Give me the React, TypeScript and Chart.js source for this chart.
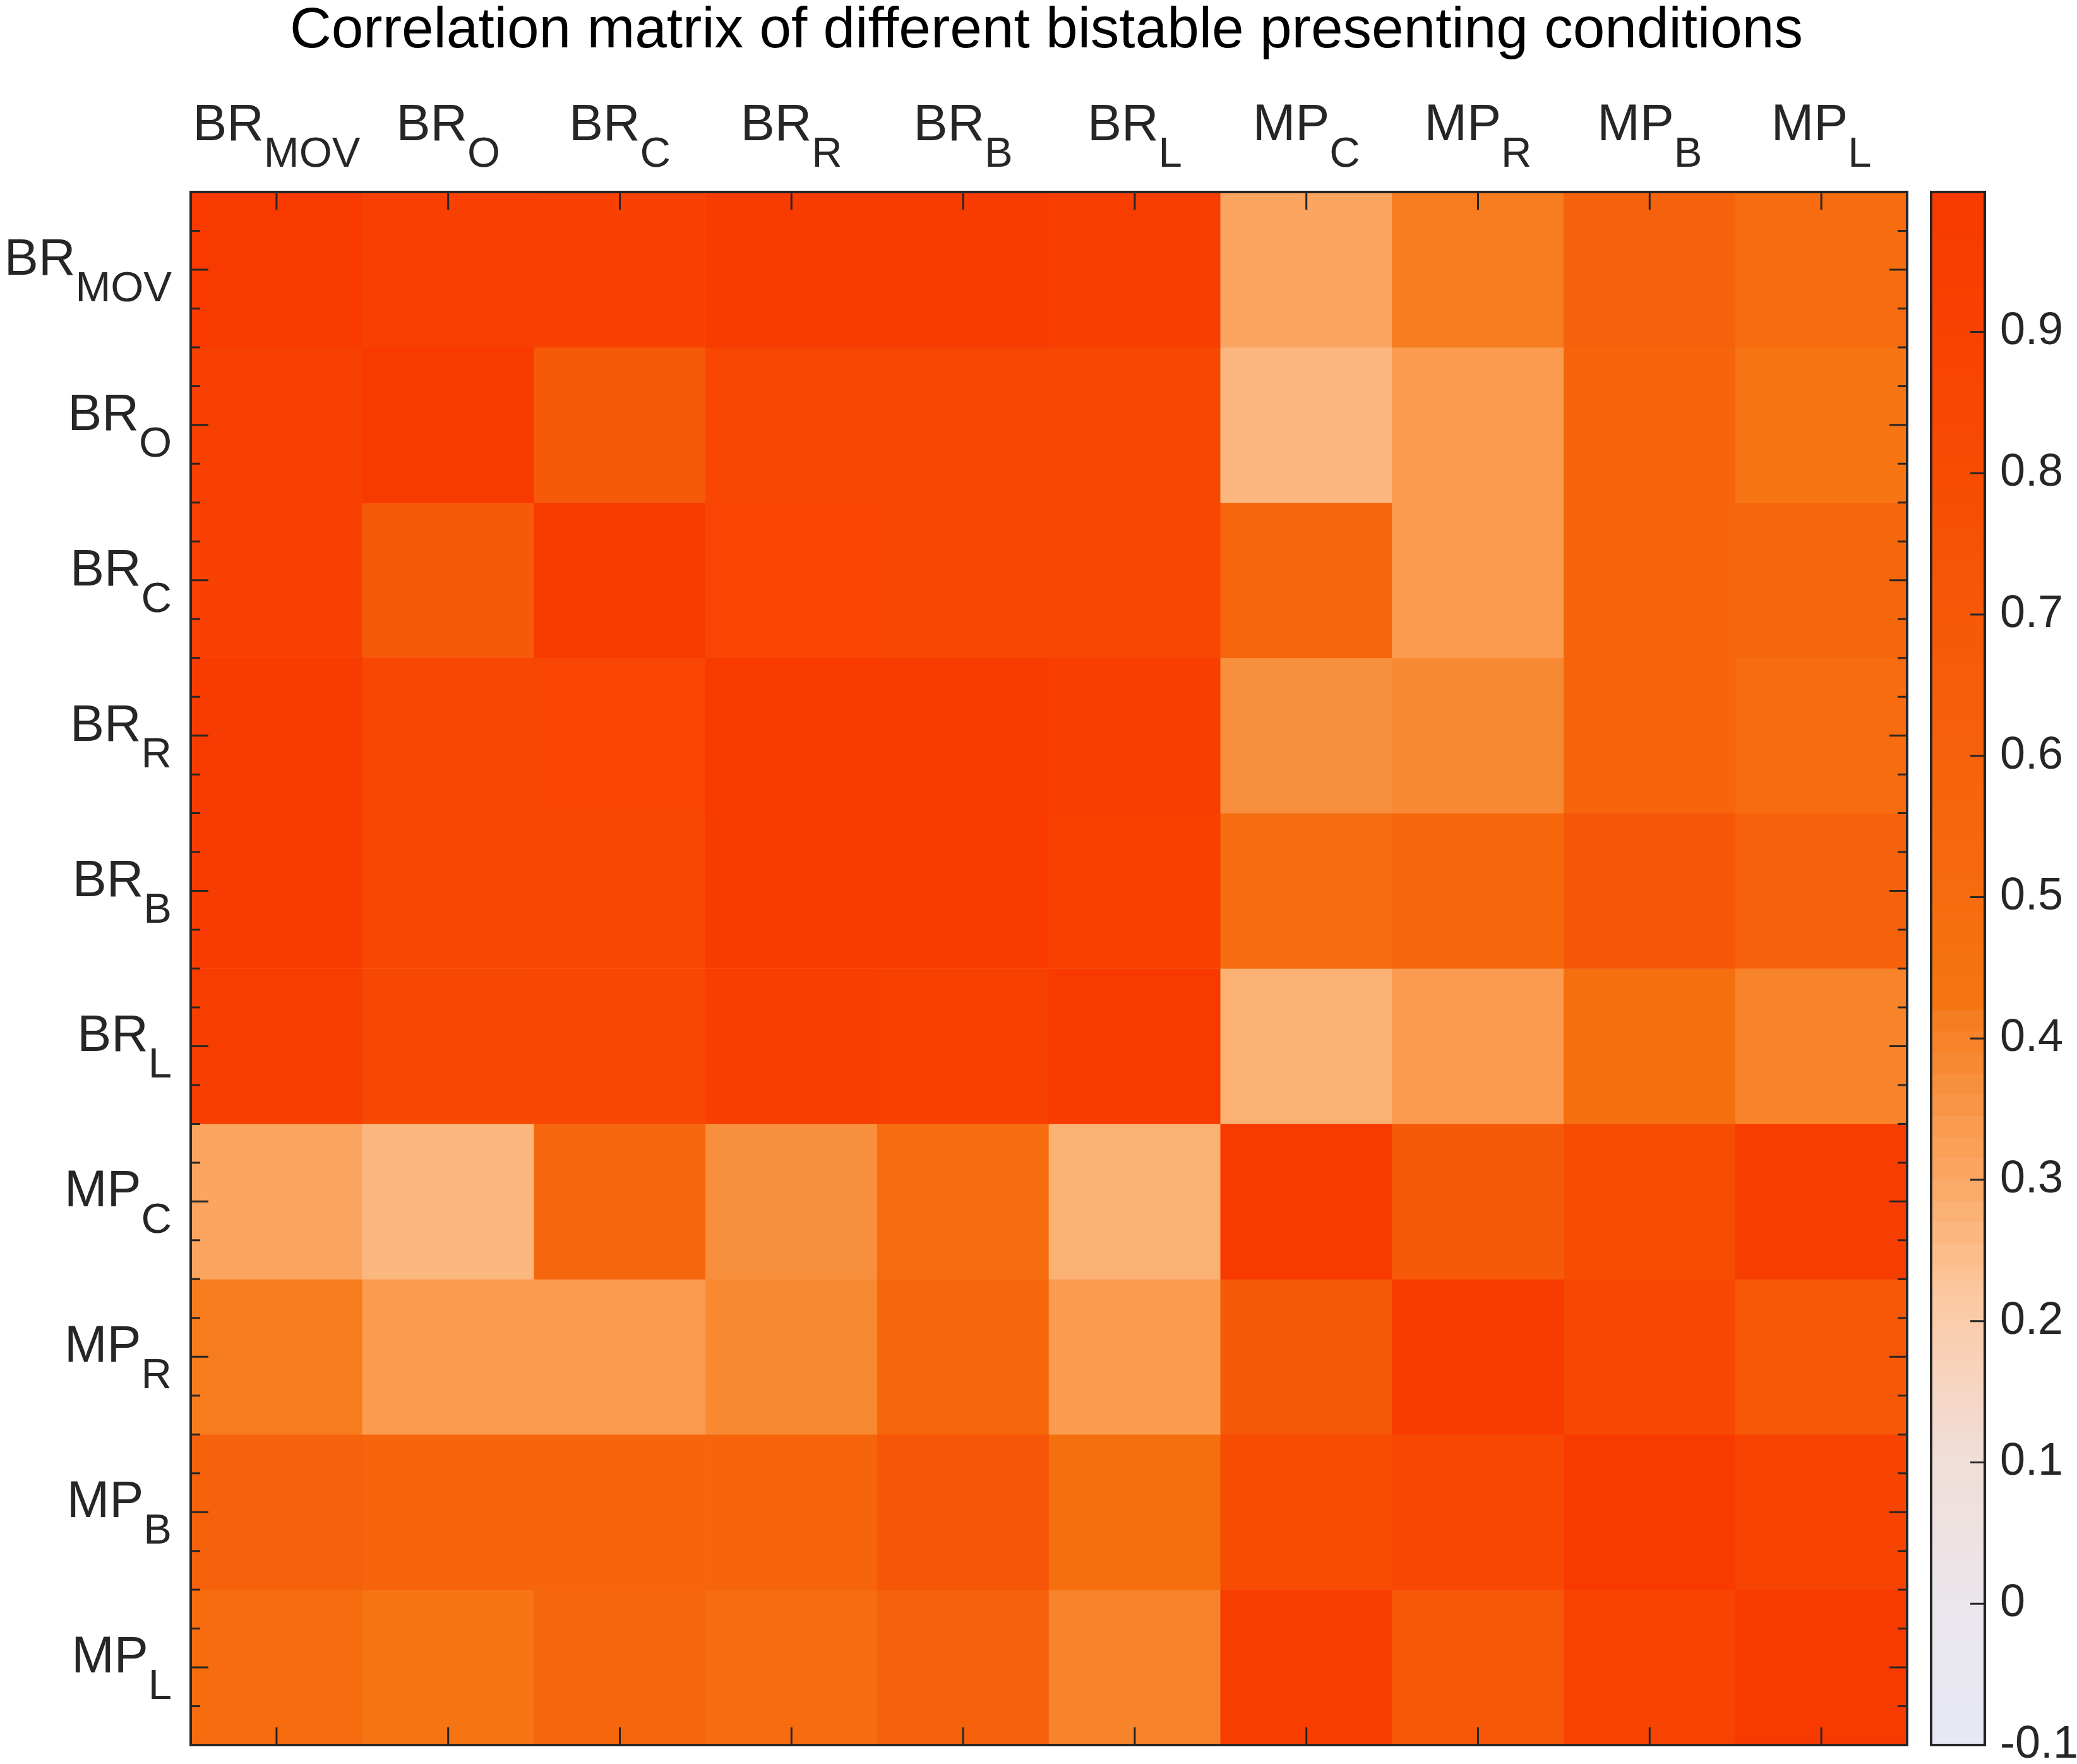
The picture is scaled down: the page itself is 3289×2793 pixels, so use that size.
import React, { useEffect, useRef } from 'react';
import { Chart, registerables } from 'chart.js';

Chart.register(...registerables);

// ---------------- data ----------------
const TITLE = 'Correlation matrix of different bistable presenting conditions';
const conditionMain = ['BR', 'BR', 'BR', 'BR', 'BR', 'BR', 'MP', 'MP', 'MP', 'MP'];
const conditionSub = ['MOV', 'O', 'C', 'R', 'B', 'L', 'C', 'R', 'B', 'L'];

const rowBRMOV = [1.0, 0.92, 0.91, 0.97, 0.97, 0.96, 0.31, 0.42, 0.6, 0.5];
const rowBRO = [0.92, 1.0, 0.69, 0.86, 0.86, 0.84, 0.255, 0.345, 0.58, 0.43];
const rowBRC = [0.91, 0.69, 1.0, 0.87, 0.86, 0.85, 0.56, 0.345, 0.57, 0.56];
const rowBRR = [0.97, 0.86, 0.87, 1.0, 0.97, 0.95, 0.37, 0.38, 0.57, 0.5];
const rowBRB = [0.97, 0.86, 0.86, 0.97, 1.0, 0.93, 0.49, 0.55, 0.72, 0.6];
const rowBRL = [0.96, 0.84, 0.85, 0.95, 0.93, 1.0, 0.28, 0.335, 0.48, 0.4];
const rowMPC = [0.31, 0.255, 0.56, 0.37, 0.49, 0.28, 1.0, 0.68, 0.8, 0.96];
const rowMPR = [0.42, 0.345, 0.345, 0.38, 0.55, 0.335, 0.68, 1.0, 0.84, 0.7];
const rowMPB = [0.6, 0.58, 0.57, 0.57, 0.72, 0.48, 0.8, 0.84, 1.0, 0.88];
const rowMPL = [0.5, 0.43, 0.56, 0.5, 0.6, 0.4, 0.96, 0.7, 0.88, 1.0];
const matrixRows = [rowBRMOV, rowBRO, rowBRC, rowBRR, rowBRB, rowBRL, rowMPC, rowMPR, rowMPB, rowMPL];

const colorbarTicks = [-0.1, 0, 0.1, 0.2, 0.3, 0.4, 0.5, 0.6, 0.7, 0.8, 0.9];
const colorbarMin = -0.1;
const colorbarMax = 0.999;

// ---------------- colormap ----------------
const cmapStops: [number, number, number, number][] = [
  [-0.1, 230, 232, 244],
  [0.0, 235, 230, 236],
  [0.1, 240, 222, 216],
  [0.15, 246, 214, 196],
  [0.22, 252, 200, 160],
  [0.25, 252, 188, 136],
  [0.3, 251, 168, 100],
  [0.35, 249, 150, 72],
  [0.4, 247, 130, 40],
  [0.42, 246, 124, 30],
  [0.4201, 246, 118, 18],
  [0.5, 246, 108, 14],
  [0.6, 246, 98, 11],
  [0.7, 246, 88, 8],
  [0.8, 247, 76, 4],
  [0.9, 248, 66, 2],
  [1.0, 248, 58, 0],
];

function colorFor(vIn: number): string {
  let v = Math.max(-0.1, Math.min(1, vIn));
  if (v >= 0.24 && v < 0.42) {
    const step = 0.015;
    v = 0.24 + Math.floor((v - 0.24) / step) * step + step / 2;
  }
  for (let i = 0; i < cmapStops.length - 1; i++) {
    const a = cmapStops[i];
    const b = cmapStops[i + 1];
    if (v >= a[0] && v <= b[0]) {
      const t = (v - a[0]) / (b[0] - a[0] || 1);
      const r = Math.round(a[1] + (b[1] - a[1]) * t);
      const g = Math.round(a[2] + (b[2] - a[2]) * t);
      const bl = Math.round(a[3] + (b[3] - a[3]) * t);
      return `rgb(${r},${g},${bl})`;
    }
  }
  const last = cmapStops[cmapStops.length - 1];
  return `rgb(${last[1]},${last[2]},${last[3]})`;
}

// ---------------- layout constants ----------------
const W = 3289;
const H = 2793;
const PLOT_LEFT = 302;
const PLOT_TOP = 304;
const PLOT_RIGHT = 3020;
const PLOT_BOTTOM = 2763;
const FONT = '"Liberation Sans", Arial, Helvetica, sans-serif';
const INK = '#262626';

const decorPlugin = {
  id: 'heatmapDecor',
  afterDraw(chart: any) {
    const ctx: CanvasRenderingContext2D = chart.ctx;
    const area = chart.chartArea;
    const xs = chart.scales.x;
    const ys = chart.scales.y;
    const cb = chart.scales.cb;
    ctx.save();

    // colorbar gradient
    const cbLeft = area.right + 38;
    const cbRight = area.right + 123;
    const top = Math.floor(cb.top);
    const bottom = Math.ceil(cb.bottom);
    for (let py = top; py < bottom; py++) {
      const v = cb.getValueForPixel(py + 0.5);
      ctx.fillStyle = colorFor(v);
      ctx.fillRect(cbLeft, py, cbRight - cbLeft, 1);
    }
    ctx.strokeStyle = INK;
    ctx.lineWidth = 3;
    ctx.beginPath();
    for (const v of colorbarTicks) {
      if (v <= colorbarMin) continue;
      const y = cb.getPixelForValue(v);
      ctx.moveTo(cbRight - 23, y);
      ctx.lineTo(cbRight, y);
    }
    ctx.stroke();
    ctx.lineWidth = 4;
    ctx.strokeRect(cbLeft, cb.top, cbRight - cbLeft, cb.bottom - cb.top);

    // heatmap ticks
    ctx.lineWidth = 3;
    ctx.beginPath();
    for (let i = 0; i < conditionSub.length; i++) {
      const x = xs.getPixelForValue(i);
      ctx.moveTo(x, area.top);
      ctx.lineTo(x, area.top + 28);
      ctx.moveTo(x, area.bottom);
      ctx.lineTo(x, area.bottom - 28);
    }
    const nQuarter = conditionSub.length * 4;
    for (let k = 1; k < nQuarter; k++) {
      const v = -0.5 + k * 0.25;
      const y = ys.getPixelForValue(v);
      const len = Math.abs(v - Math.round(v)) < 1e-9 ? 28 : 15;
      ctx.moveTo(area.left, y);
      ctx.lineTo(area.left + len, y);
      ctx.moveTo(area.right, y);
      ctx.lineTo(area.right - len, y);
    }
    ctx.stroke();
    ctx.lineWidth = 4;
    ctx.strokeRect(area.left, area.top, area.right - area.left, area.bottom - area.top);

    // axis labels with subscripts
    const mainFont = `81px ${FONT}`;
    const subFont = `67px ${FONT}`;
    ctx.fillStyle = INK;
    ctx.textBaseline = 'alphabetic';
    ctx.textAlign = 'left';
    for (let i = 0; i < conditionSub.length; i++) {
      ctx.font = mainFont;
      const wMain = ctx.measureText(conditionMain[i]).width;
      ctx.font = subFont;
      const wSub = ctx.measureText(conditionSub[i]).width;
      // top labels
      const cx = xs.getPixelForValue(i);
      const x0 = cx - (wMain + wSub) / 2;
      ctx.font = mainFont;
      ctx.fillText(conditionMain[i], x0, 222);
      ctx.font = subFont;
      ctx.fillText(conditionSub[i], x0 + wMain, 264);
      // left labels
      const cy = ys.getPixelForValue(i);
      const xr = area.left - 30;
      ctx.font = mainFont;
      ctx.fillText(conditionMain[i], xr - wSub - wMain, cy + 8);
      ctx.font = subFont;
      ctx.fillText(conditionSub[i], xr - wSub, cy + 50);
    }

    // title
    ctx.fillStyle = '#000000';
    ctx.font = `91px ${FONT}`;
    ctx.textAlign = 'center';
    ctx.fillText(TITLE, (area.left + area.right) / 2 - 4, 75);
    ctx.restore();
  },
};

export default function App() {
  const canvasRef = useRef<HTMLCanvasElement | null>(null);

  useEffect(() => {
    const canvas = canvasRef.current;
    if (!canvas) return;
    Chart.defaults.font.family = FONT;

    const datasets = matrixRows.map((row, r) => ({
      label: `${conditionMain[r]}${conditionSub[r]}`,
      data: row.map(() => [r - 0.5, r + 0.5]),
      backgroundColor: row.map((v) => colorFor(v)),
      borderWidth: 0,
      barPercentage: 1,
      categoryPercentage: 1,
      grouped: false,
    }));

    const chart = new Chart(canvas, {
      type: 'bar',
      data: {
        labels: conditionSub.map((s, i) => `${conditionMain[i]}${s}`),
        datasets: datasets as any,
      },
      options: {
        responsive: false,
        animation: false,
        events: [],
        layout: {
          padding: { left: PLOT_LEFT, top: PLOT_TOP, right: 0, bottom: H - PLOT_BOTTOM },
        },
        plugins: {
          legend: { display: false },
          tooltip: { enabled: false },
          title: { display: false },
        },
        scales: {
          x: {
            type: 'category',
            display: false,
            offset: true,
          },
          y: {
            type: 'linear',
            display: false,
            reverse: true,
            min: -0.5,
            max: matrixRows.length - 0.5,
          },
          cb: {
            type: 'linear',
            position: 'right',
            min: colorbarMin,
            max: colorbarMax,
            grid: { display: false, drawTicks: false },
            border: { display: false },
            afterBuildTicks: (scale: any) => {
              scale.ticks = colorbarTicks.map((value) => ({ value }));
            },
            afterFit: (scale: any) => {
              scale.width = W - PLOT_RIGHT;
              scale.paddingTop = 0;
              scale.paddingBottom = 0;
            },
            ticks: {
              autoSkip: false,
              padding: 147,
              color: INK,
              font: { size: 72, family: FONT },
              callback: (v: any) => `${Math.round(Number(v) * 10) / 10}`,
            },
          },
        } as any,
      },
      plugins: [decorPlugin],
    });

    return () => {
      chart.destroy();
    };
  }, []);

  return (
    <div style={{ position: 'absolute', left: 0, top: 0, width: W, height: H, background: '#ffffff' }}>
      <canvas ref={canvasRef} width={W} height={H} style={{ display: 'block', width: W, height: H }} />
    </div>
  );
}
